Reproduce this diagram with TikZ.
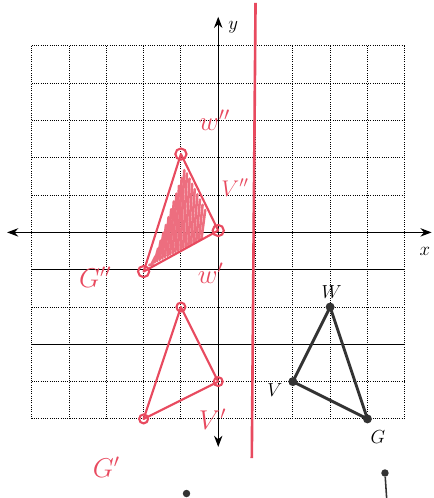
\documentclass[tikz,border=0pt]{standalone}
\usepackage{xcolor}
\definecolor{pen}{HTML}{E84A5F}
\definecolor{ink}{HTML}{333333}
\usepackage{tikz}
\usetikzlibrary{arrows.meta,positioning,calc}

\begin{document}
\begin{tikzpicture}[x=1cm,y=1cm,font=\Large,
  dot/.style={circle,fill=ink,inner sep=0pt,minimum size=2.4mm},
  pendot/.style={circle,draw=pen,line width=1.6pt,inner sep=0pt,minimum size=2.4mm},
  hand/.style={pen,font=\huge,inner sep=1pt}]
  \useasboundingbox (-5.85,-7.12) rectangle (5.76,6.23);
  % grid
  \draw[densely dotted,line width=0.7pt] (-5,-5) grid (5,5);
  \draw[line width=0.6pt] (-5,-1) -- (5,-1);
  \draw[line width=0.6pt] (-5,-3) -- (5,-3);
  % axes
  \coordinate (xl) at (-5.66,0);
  \coordinate (xr) at (5.72,0);
  \coordinate (yt) at (0,5.78);
  \coordinate (yb) at (0,-5.75);
  \draw[{Stealth[length=3mm]}-{Stealth[length=3mm]},line width=0.9pt] (xl) -- (xr);
  \draw[{Stealth[length=3mm]}-{Stealth[length=3mm]},line width=0.9pt] (yb) -- (yt);
  \node (xlab) at (5.54,-0.52) {$x$};
  \node (ylab) at (0.4,5.5) {$y$};
  % mirror line
  \coordinate (mtop) at (1.0,6.15);
  \coordinate (mbot) at (0.9,-6.05);
  \draw[pen,line width=2pt] (mtop) -- (mbot);
  % triangle WVG
  \coordinate (W) at (3,-2);
  \coordinate (V) at (2,-4);
  \coordinate (G) at (4,-5);
  \draw[ink,line width=2.2pt,line join=round] (W) -- (V) -- (G) -- cycle;
  \foreach \p in {W,V,G} \node[dot] (\p dot) at (\p) {};
  \node (Wlab) at (3.04,-1.59) {$W$};
  \node (Vlab) at (1.52,-4.23) {$V$};
  \node (Glab) at (4.28,-5.48) {$G$};
  % first image
  \coordinate (W1) at (-1,-2);
  \coordinate (V1) at (0,-4);
  \coordinate (G1) at (-2,-5);
  \draw[pen,line width=1.6pt,line join=round] (W1) -- (V1) -- (G1) -- cycle;
  \foreach \p in {W1,V1,G1} \node[pendot] (\p dot) at (\p) {};
  \node[hand] (W1lab) at (-0.2,-1.1) {$w'$};
  \node[hand] (V1lab) at (-0.15,-5.0) {$V'$};
  \node[hand] (G1lab) at (-3.0,-6.3) {$G'$};
  % second image
  \coordinate (W2) at (-1,2.1);
  \coordinate (V2) at (0,0.05);
  \coordinate (G2) at (-2,-1.05);
  \foreach \x in {-1.85,-1.78,...,-0.4} {
    \pgfmathsetmacro\yt{min(-1+3*(\x+2),2-2*(\x+1))-0.3}
    \pgfmathsetmacro\yl{-1+(\x+2)/2+0.05}
    \draw[pen!80,line width=2pt,line cap=round] (\x,\yl) -- (\x+0.1,\yt);
  }
  \draw[pen,line width=1.6pt,line join=round] (W2) -- (V2) -- (G2) -- cycle;
  \foreach \p in {W2,V2,G2} \node[pendot,minimum size=3mm] (\p dot) at (\p) {};
  \node[hand] (W2lab) at (-0.1,3.0) {$w''$};
  \node[hand,font=\LARGE] (V2lab) at (0.45,1.2) {$V''$};
  \node[hand] (G2lab) at (-3.3,-1.2) {$G''$};
  % marks below the grid
  \node[dot,minimum size=2mm] (p1) at (-0.85,-7.0) {};
  \node[dot,minimum size=2mm] (p2) at (4.47,-6.45) {};
  \coordinate (p2end) at (4.52,-7.2);
  \draw[ink,line width=1.2pt] (p2) -- (p2end);
\end{tikzpicture}
\end{document}
